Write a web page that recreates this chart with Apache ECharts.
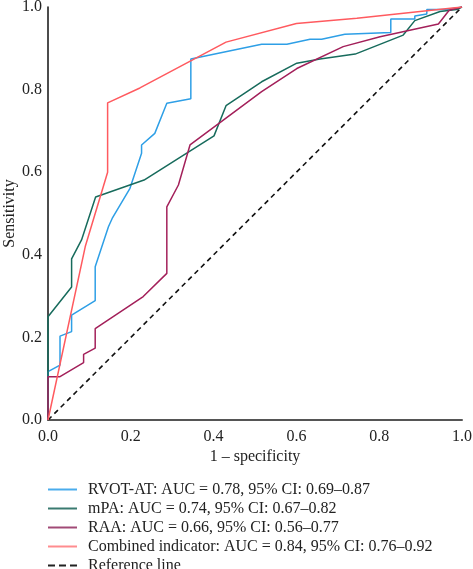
<!DOCTYPE html>
<html>
<head>
<meta charset="utf-8">
<script src="https://cdn.jsdelivr.net/npm/echarts@6/dist/echarts.min.js"></script>
<style>
  html, body { margin: 0; padding: 0; background: #fff; }
  #roc { width: 473px; height: 569px; }
</style>
</head>
<body>
<div id="roc"></div>
<script>
// ROC points: [1 - specificity, sensitivity]
const rvotAt = [
  [0, 0], [0, 0.117], [0.029, 0.133], [0.029, 0.203], [0.057, 0.214], [0.057, 0.254],
  [0.114, 0.289], [0.114, 0.371], [0.146, 0.468], [0.155, 0.488], [0.198, 0.561],
  [0.226, 0.646], [0.226, 0.666], [0.258, 0.694], [0.287, 0.767], [0.345, 0.778],
  [0.345, 0.874], [0.516, 0.910], [0.577, 0.910], [0.633, 0.922], [0.661, 0.922],
  [0.717, 0.934], [0.828, 0.938], [0.828, 0.971], [0.886, 0.971], [0.886, 0.978],
  [0.915, 0.983], [0.915, 0.994], [0.963, 0.994], [1, 1]
]
const mpa = [
  [0, 0], [0, 0.250], [0.057, 0.322], [0.057, 0.390], [0.081, 0.436], [0.115, 0.540],
  [0.232, 0.581], [0.401, 0.688], [0.430, 0.761], [0.516, 0.819], [0.601, 0.864],
  [0.657, 0.874], [0.742, 0.886], [0.858, 0.932], [0.886, 0.967], [0.947, 0.989],
  [0.987, 0.994], [1, 1]
]
const raa = [
  [0, 0], [0, 0.105], [0.029, 0.105], [0.086, 0.139], [0.086, 0.159], [0.114, 0.174],
  [0.114, 0.221], [0.230, 0.299], [0.287, 0.355], [0.287, 0.516], [0.315, 0.569],
  [0.343, 0.666], [0.516, 0.795], [0.601, 0.851], [0.713, 0.904], [0.802, 0.928],
  [0.943, 0.959], [0.969, 0.992], [1, 1]
]
const combined = [
  [0, 0], [0.090, 0.420], [0.144, 0.600], [0.144, 0.768], [0.222, 0.804],
  [0.430, 0.915], [0.600, 0.960], [0.746, 0.973], [1, 1]
]
const referenceLine = [[0, 0], [1, 1]]

const seriesNames = [
  'RVOT-AT: AUC = 0.78, 95% CI: 0.69\u20130.87',
  'mPA: AUC = 0.74, 95% CI: 0.67\u20130.82',
  'RAA: AUC = 0.66, 95% CI: 0.56\u20130.77',
  'Combined indicator: AUC = 0.84, 95% CI: 0.76\u20130.92',
  'Reference line'
]
const seriesColors = ['#2e9fe6', '#176b5c', '#a3205a', '#ff5a5f', '#111111']
const legendColors = ['#4aacec', '#3a7a70', '#a14a76', '#ff8c8f', '#222222']
const seriesData = [rvotAt, mpa, raa, combined, referenceLine]

const FONT = '"Liberation Serif", "DejaVu Serif", serif'
const SOLID_ICON = 'path://M0,0H29V2H0Z'
const DASH_ICON = 'path://M0,0h7v2h-7z M11,0h7v2h-7z M22,0h7v2h-7z'

const chart = echarts.init(document.getElementById('roc'))

const series = seriesData.map((data, i) => ({
  name: seriesNames[i],
  type: 'line',
  data: data,
  symbol: 'none',
  z: i === 4 ? 1 : 2,
  lineStyle: {
    color: seriesColors[i],
    width: i === 4 ? 1.6 : 1.5,
    type: i === 4 ? [5, 4] : 'solid'
  },
  itemStyle: { color: seriesColors[i] },
  emphasis: { disabled: true }
}))

chart.setOption({
  animation: false,
  grid: {
    left: 48, right: 11, top: 7, bottom: 149,
    containLabel: false,
    outerBoundsMode: 'none'
  },
  xAxis: {
    type: 'value',
    min: 0,
    max: 1,
    interval: 0.2,
    name: '1 \u2013 specificity',
    nameLocation: 'middle',
    nameGap: 29,
    nameMoveOverlap: false,
    nameTextStyle: { fontFamily: FONT, fontSize: 16, color: '#222' },
    axisLine: { show: true, lineStyle: { color: '#555', width: 2 } },
    axisTick: { show: false },
    splitLine: { show: false },
    axisLabel: {
      fontFamily: FONT, fontSize: 16, color: '#222', margin: 9,
      formatter: v => v.toFixed(1)
    }
  },
  yAxis: {
    type: 'value',
    min: 0,
    max: 1,
    interval: 0.2,
    name: 'Sensitivity',
    nameLocation: 'middle',
    nameGap: 30,
    nameMoveOverlap: false,
    nameTextStyle: { fontFamily: FONT, fontSize: 16, color: '#222' },
    axisLine: { show: true, lineStyle: { color: '#111', width: 1.5 } },
    axisTick: { show: false },
    splitLine: { show: false },
    axisLabel: {
      fontFamily: FONT, fontSize: 16, color: '#222', margin: 6,
      formatter: v => v.toFixed(1)
    }
  },
  legend: {
    orient: 'vertical',
    left: 48,
    top: 480,
    height: 120,
    padding: 0,
    itemWidth: 29,
    itemHeight: 2,
    itemGap: 0,
    textStyle: {
      fontFamily: FONT, fontSize: 16, color: '#222',
      lineHeight: 19, padding: [0, 0, 0, 6]
    },
    data: seriesNames.map((n, i) => ({
      name: n,
      icon: i === 4 ? DASH_ICON : SOLID_ICON,
      itemStyle: { color: legendColors[i] }
    }))
  },
  series: series
})
</script>
</body>
</html>
